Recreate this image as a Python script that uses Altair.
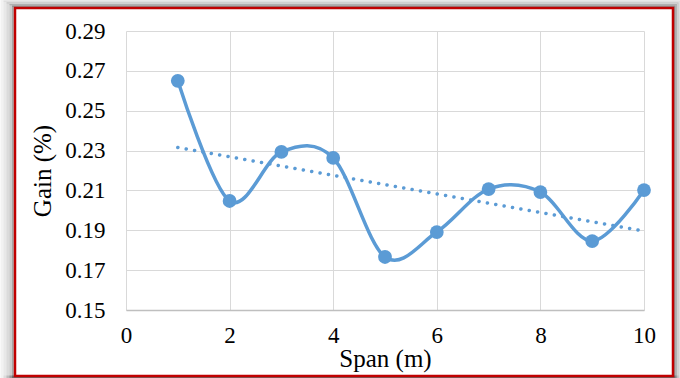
import altair as alt
import pandas as pd

span = [1, 2, 3, 4, 5, 6, 7, 8, 9, 10]
gain = [0.265, 0.2047, 0.2293, 0.2263, 0.1766, 0.1891, 0.2107, 0.2092, 0.1846, 0.2102]
x_ticks = [0, 2, 4, 6, 8, 10]
y_ticks = [0.15, 0.17, 0.19, 0.21, 0.23, 0.25, 0.27, 0.29]

df = pd.DataFrame({"x": span, "y": gain})
blue = "#5B9BD5"
FONT = "Liberation Serif"

W, H = 518, 279
L, T = 126, 31

xs = alt.Scale(domain=[0, 10], nice=False)
ys = alt.Scale(domain=[0.15, 0.29], nice=False, zero=False)

xenc = alt.X("x:Q", scale=xs, axis=alt.Axis(
    values=x_ticks, title="Span (m)", grid=True, gridColor="#D9D9D9",
    domain=True, domainColor="#BFBFBF", domainWidth=1.5, ticks=False,
    labelFlush=False, labelOverlap=False,
    labelFont=FONT, labelFontSize=23, labelColor="black", labelPadding=14,
    titleFont=FONT, titleFontSize=25, titleFontWeight="normal", titleColor="black",
    titleY=56, titleBaseline="alphabetic"))
yenc = alt.Y("y:Q", scale=ys, axis=alt.Axis(
    values=y_ticks, format=".2f", title="Gain (%)", grid=True, gridColor="#D9D9D9",
    domain=False, ticks=False, labelFlush=False, labelOverlap=False,
    labelFont=FONT, labelFontSize=23, labelColor="black", labelPadding=21,
    titleFont=FONT, titleFontSize=25, titleFontWeight="normal", titleColor="black",
    titleX=-84, titleBaseline="middle"))

one = pd.DataFrame({"a": [0]})
# frame geometry relative to plot origin
fx1, fx2, fy1, fy2 = 15 - L, 673 - L, 8 - T, 376 - T

shadows = []
for k, op in [(13, 0.05), (10, 0.09), (7, 0.14), (4, 0.2), (1.5, 0.28)]:
    shadows.append(
        alt.Chart(one).mark_rect(fill="transparent", stroke="black", strokeOpacity=op, strokeWidth=3).encode(
            x=alt.value(fx1 - k), x2=alt.value(fx2 + k * 0.6),
            y=alt.value(fy1 - k * 0.6), y2=alt.value(fy2 + 1)))

frame = alt.Chart(one).mark_rect(fill="transparent", stroke="#C00000", strokeWidth=2.5).encode(
    x=alt.value(fx1), x2=alt.value(fx2), y=alt.value(fy1), y2=alt.value(fy2))

base = alt.Chart(df)
line = base.mark_line(color=blue, strokeWidth=3.5, interpolate="cardinal", tension=0).encode(x=xenc, y=yenc)
pts = base.mark_point(color=blue, filled=True, opacity=1, size=190).encode(x=xenc, y=yenc)
trend = base.transform_regression("x", "y", extent=[1, 10]).mark_line(
    color=blue, strokeWidth=3.5, strokeDash=[0.1, 8.4], strokeCap="round").encode(x=xenc, y=yenc)

chart = alt.layer(*shadows, frame, line, trend, pts).properties(
    width=W, height=H,
    autosize=alt.AutoSizeParams(type="none"),
    padding={"left": L, "top": T, "right": 680 - L - W, "bottom": 378 - T - H},
    background="white",
).configure_view(stroke=None)

chart.save("out.html", embed_options={"renderer": "svg", "actions": False})
